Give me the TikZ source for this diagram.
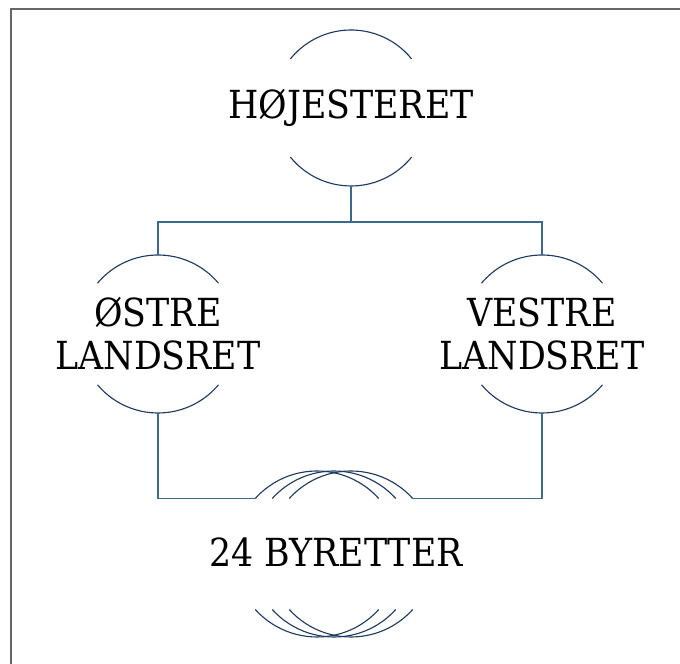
\documentclass[tikz,border=0pt]{standalone}
\usepackage{fontspec}
\setmainfont{DejaVu Serif Condensed}
\usepackage{xcolor}
\usepackage{tikz}
\usetikzlibrary{shapes,positioning}

\definecolor{arcblue}{HTML}{1F3A5F}
\definecolor{lineblue}{HTML}{3C6A8A}

\tikzset{
  ring/.style = {shape=circle, inner sep=0pt, outer sep=0pt},
  court/.style = {align=center, font=\fontsize{27.5}{30.5}\selectfont},
  arcline/.style = {draw=arcblue, line width=0.8pt},
  conn/.style = {draw=lineblue, line width=0.9pt}
}

\begin{document}
\begin{tikzpicture}

\useasboundingbox (0,0) rectangle (17,16.6);

% frame of the screenshot
\draw [gray!80!black, line width=1.4pt] (0.275,0) -- (0.275,16.375) -- (17,16.375);

% Hoejesteret
\node [ring, minimum size=3.9cm] at (8.775,13.9) (hoejesteret) {};
\node [court] at (hoejesteret) (hoejesteret_txt) {HØJESTERET};
\draw [arcline] (hoejesteret.39) arc [start angle=39, end angle=141, radius=1.95cm];
\draw [arcline] (hoejesteret.219) arc [start angle=219, end angle=321, radius=1.95cm];

% Landsretter
\node [ring, minimum size=3.95cm] at (3.95,8.25) (oestre) {};
\node [court] at (oestre) (oestre_txt) {ØSTRE\\LANDSRET};
\draw [arcline] (oestre.40) arc [start angle=40, end angle=140, radius=1.975cm];
\draw [arcline] (oestre.220) arc [start angle=220, end angle=320, radius=1.975cm];

\node [ring, minimum size=3.95cm] at (13.55,8.25) (vestre) {};
\node [court] at (vestre) (vestre_txt) {VESTRE\\LANDSRET};
\draw [arcline] (vestre.40) arc [start angle=40, end angle=140, radius=1.975cm];
\draw [arcline] (vestre.220) arc [start angle=220, end angle=320, radius=1.975cm];

% Byretter
\node [ring, minimum size=4.15cm] at (7.925,2.75) (byret_a) {};
\node [ring, minimum size=4.15cm] at (8.35,2.75) (byret_b) {};
\node [ring, minimum size=4.15cm] at (8.775,2.75) (byret_c) {};
\node [court] at (8.4,2.8) (byret_txt) {24 BYRETTER};
\draw [arcline] (byret_a.42) arc [start angle=42, end angle=138, radius=2.075cm];
\draw [arcline] (byret_b.42) arc [start angle=42, end angle=138, radius=2.075cm];
\draw [arcline] (byret_c.42) arc [start angle=42, end angle=138, radius=2.075cm];
\draw [arcline] (byret_a.222) arc [start angle=222, end angle=318, radius=2.075cm];
\draw [arcline] (byret_b.222) arc [start angle=222, end angle=318, radius=2.075cm];
\draw [arcline] (byret_c.222) arc [start angle=222, end angle=318, radius=2.075cm];

% connectors
\coordinate (split) at (8.775,11.05);
\draw [conn] (hoejesteret.south) -- (split);
\draw [conn] (oestre.north) |- (split) -| (vestre.north);
\draw [conn] (oestre.south) |- (byret_a.138);
\draw [conn] (vestre.south) |- (byret_c.42);

\end{tikzpicture}
\end{document}
